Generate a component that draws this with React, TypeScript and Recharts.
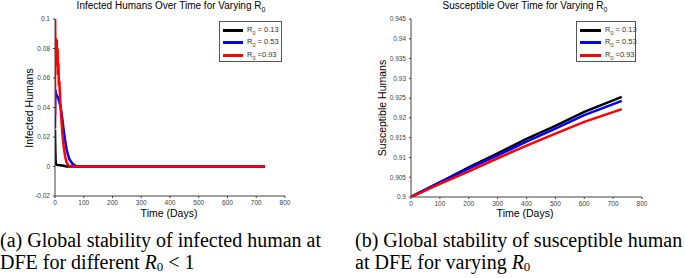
import { LineChart, Line, XAxis, YAxis } from 'recharts';

// infected humans (left panel)
const INF_BLACK_T = [0, 1, 2, 3, 5, 10, 20, 30, 40, 730];
const INF_BLACK = [0.025, 0.012, 0.005, 0.002, 0.0012, 0.001, 0.0008, 0.0005, 0, 0];
const INF_BLUE_T = [0, 1, 3, 6, 10, 15, 20, 25, 30, 35, 40, 45, 50, 60, 75, 730];
const INF_BLUE = [0.026, 0.052, 0.05, 0.048, 0.047, 0.044, 0.04, 0.033, 0.025, 0.018, 0.012, 0.008, 0.005, 0.002, 0, 0];
const INF_RED_T = [0, 0.5, 1.5, 3, 4.5, 6, 7.5, 9, 10.5, 12, 13.5, 15, 18, 22, 26, 30, 35, 40, 45, 55, 730];
const INF_RED = [0.035, 0.1, 0.072, 0.087, 0.074, 0.086, 0.068, 0.08, 0.062, 0.07, 0.055, 0.058, 0.045, 0.033, 0.022, 0.014, 0.007, 0.003, 0.001, 0, 0];

// susceptible humans (right panel)
const SUS_T = [0, 100, 200, 300, 400, 500, 600, 730];
const SUS_BLACK = [0.9, 0.9037, 0.9075, 0.911, 0.9147, 0.918, 0.9215, 0.9253];
const SUS_BLUE = [0.9, 0.9037, 0.9072, 0.9105, 0.914, 0.9173, 0.9207, 0.9243];
const SUS_RED = [0.9, 0.9033, 0.9065, 0.9098, 0.913, 0.916, 0.919, 0.9222];

const X_TICKS = [0, 100, 200, 300, 400, 500, 600, 700, 800];
const INF_Y_TICKS = [-0.02, 0, 0.02, 0.04, 0.06, 0.08, 0.1];
const SUS_Y_TICKS = [0.9, 0.905, 0.91, 0.915, 0.92, 0.925, 0.93, 0.935, 0.94, 0.945];

const LEGEND = [
  { color: '#000000', label: ' = 0.13' },
  { color: '#0000ff', label: ' = 0.53' },
  { color: '#ff0000', label: ' =0.93' },
];

const zip = (t: number[], v: number[]) => t.map((x, i) => ({ t: x, v: v[i] }));

const sans = '"Liberation Sans", Arimo, sans-serif';
const serif = '"Liberation Serif", serif';
const tick = { fill: '#404040', fontSize: 6.5, fontFamily: sans };

function Legend({ left, width, lineW }: { left: number; width: number; lineW: number }) {
  return (
    <div style={{
      position: 'absolute', left, top: 21, width, height: 41, boxSizing: 'border-box',
      border: '1px solid #555', background: '#fff', fontFamily: sans, fontSize: 7.5, color: '#333',
    }}>
      {LEGEND.map((e, i) => (
        <div key={i} style={{ position: 'absolute', left: 3, top: 3 + i * 12.5, height: 10, display: 'flex', alignItems: 'center', whiteSpace: 'nowrap' }}>
          <div style={{ width: lineW, height: 3, background: e.color, marginRight: 4 }} />
          <span>R<sub style={{ fontSize: 5.5 }}>0</sub>{e.label}</span>
        </div>
      ))}
    </div>
  );
}

function Panel(props: {
  left: number; width: number; yW: number; right: number; xH: number;
  domain: [number, number]; yTicks: number[];
  series: { data: { t: number; v: number }[]; color: string }[];
}) {
  return (
    <div style={{ position: 'absolute', left: props.left, top: 0 }}>
      <LineChart width={props.width} height={215} margin={{ top: 19, right: props.right, left: 0, bottom: 0 }}>
        <XAxis dataKey="t" type="number" domain={[0, 800]} ticks={X_TICKS} allowDataOverflow
          height={props.xH} tick={tick} stroke="#404040" tickSize={2} tickMargin={2} interval={0} />
        <YAxis type="number" domain={props.domain} ticks={props.yTicks} allowDataOverflow
          width={props.yW} tick={tick} stroke="#404040" tickSize={2} tickMargin={3} interval={0}
          tickFormatter={(v: number) => String(v)} />
        {props.series.map((s, i) => (
          <Line key={i} data={s.data} dataKey="v" type="linear" stroke={s.color} strokeWidth={2.5}
            dot={false} isAnimationActive={false} />
        ))}
      </LineChart>
    </div>
  );
}

const textAbs = (x: number, y: number, extra: object = {}) => ({
  position: 'absolute' as const, left: x, top: y, transform: 'translate(-50%, -50%)',
  whiteSpace: 'nowrap' as const, fontFamily: sans, color: '#000', ...extra,
});

const caption = (left: number) => ({
  position: 'absolute' as const, left, top: 229, fontFamily: serif, fontSize: 20,
  lineHeight: '22px', whiteSpace: 'nowrap' as const, color: '#000',
});

const sub0 = { fontSize: 13, verticalAlign: 'baseline', position: 'relative' as const, top: 2, lineHeight: 0 };

export default function App() {
  return (
    <div style={{ position: 'absolute', left: 0, top: 0, width: 685, height: 278, background: '#fff', overflow: 'hidden' }}>
      <Panel left={0} width={340} yW={55} right={55} xH={19} domain={[-0.02, 0.1]} yTicks={INF_Y_TICKS}
        series={[
          { data: zip(INF_BLACK_T, INF_BLACK), color: '#000000' },
          { data: zip(INF_BLUE_T, INF_BLUE), color: '#0000ff' },
          { data: zip(INF_RED_T, INF_RED), color: '#ff0000' },
        ]} />
      <Panel left={340} width={345} yW={71} right={43} xH={18} domain={[0.9, 0.945]} yTicks={SUS_Y_TICKS}
        series={[
          { data: zip(SUS_T, SUS_BLACK), color: '#000000' },
          { data: zip(SUS_T, SUS_BLUE), color: '#0000ff' },
          { data: zip(SUS_T, SUS_RED), color: '#ff0000' },
        ]} />

      <div style={textAbs(171, 6, { fontSize: 10 })}>Infected Humans Over Time for Varying R<sub style={{ fontSize: 7 }}>0</sub></div>
      <div style={textAbs(525, 6, { fontSize: 10 })}>Susceptible Over Time for Varying R<sub style={{ fontSize: 7 }}>0</sub></div>
      <div style={textAbs(29, 108, { fontSize: 10.5, transform: 'translate(-50%, -50%) rotate(-90deg)' })}>Infected Humans</div>
      <div style={textAbs(382, 108, { fontSize: 10.5, transform: 'translate(-50%, -50%) rotate(-90deg)' })}>Susceptible Humans</div>
      <div style={textAbs(169, 213, { fontSize: 10.5 })}>Time (Days)</div>
      <div style={textAbs(525, 213, { fontSize: 10.5 })}>Time (Days)</div>

      <Legend left={219} width={63} lineW={20} />
      <Legend left={576} width={60} lineW={21} />

      <div style={caption(0)}>
        (a) Global stability of infected human at<br />
        DFE for different <i>R</i><sub style={sub0}>0</sub> &lt; 1
      </div>
      <div style={caption(355)}>
        (b) Global stability of susceptible human<br />
        at DFE for varying <i>R</i><sub style={sub0}>0</sub>
      </div>
    </div>
  );
}
